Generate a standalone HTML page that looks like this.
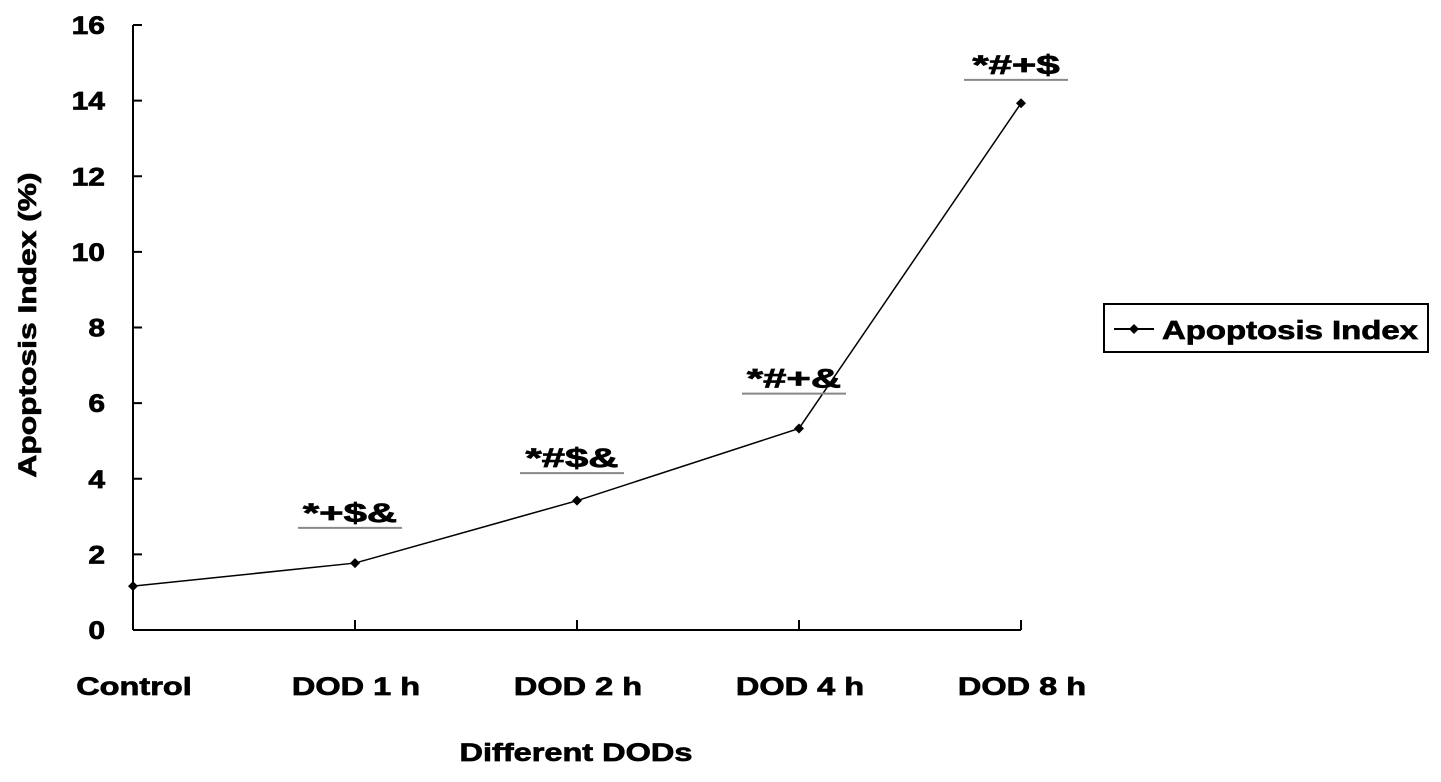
<!DOCTYPE html>
<html><head><meta charset="utf-8"><style>
body{margin:0;background:#fff;}
svg text{font-family:"Liberation Sans",Arial,sans-serif;font-weight:bold;fill:#000;stroke:#000;stroke-width:0.7;}
</style></head><body>
<svg id="chart" width="1441" height="777">
<g id="g"></g>
</svg>
<script>
const categories=["Control","DOD 1 h","DOD 2 h","DOD 4 h","DOD 8 h"];
const values=[1.16,1.77,3.42,5.33,13.93];
const annotations=["","*+$&","*#$&","*#+&","*#+$"];
const annotationLevels=[0,2.7,4.15,6.25,14.55];
const yTicks=[0,2,4,6,8,10,12,14,16];
const NS="http://www.w3.org/2000/svg";
const g=document.getElementById('g');
const x0=133,dx=222,y0=630,yTop=25;
function X(i){return x0+i*dx;}
function Y(v){return y0-(v/16)*(y0-yTop);}
function mk(t,a,p){const e=document.createElementNS(NS,t);for(const k in a)e.setAttribute(k,a[k]);(p||g).appendChild(e);return e;}
function widen(el,f){const w=el.getComputedTextLength();el.setAttribute('textLength',w*f);el.setAttribute('lengthAdjust','spacingAndGlyphs');}
let e;
e=mk('line',{x1:x0,y1:yTop,x2:x0,y2:y0,stroke:'#000','stroke-width':2});


e=mk('line',{x1:x0,y1:y0,x2:X(4),y2:y0,stroke:'#000','stroke-width':2});


yTicks.forEach(v=>{
 mk('line',{x1:x0,y1:Y(v),x2:x0+9,y2:Y(v),stroke:'#000','stroke-width':2});
 e=mk('text',{x:105,y:Y(v)+9,'text-anchor':'end','font-size':25});
 e.textContent=v;
 
 
 widen(e,1.2);
});
categories.forEach((c,i)=>{
 if(i>0)mk('line',{x1:X(i),y1:y0-10,x2:X(i),y2:y0,stroke:'#000','stroke-width':2});
 e=mk('text',{x:X(i)+1,y:695,'text-anchor':'middle','font-size':25});
 e.textContent=c;
 
 
 widen(e,1.3);
});
e=mk('polyline',{points:values.map((v,i)=>X(i)+','+Y(v)).join(' '),fill:'none',stroke:'#000','stroke-width':1.5});


values.forEach((v,i)=>{
 e=mk('polygon',{points:`${X(i)},${Y(v)-5} ${X(i)+5},${Y(v)} ${X(i)},${Y(v)+5} ${X(i)-5},${Y(v)}`,fill:'#000'});
 
 
 if(annotations[i]){
  const ay=Y(annotationLevels[i]);
  e=mk('text',{x:X(i)-5,y:ay-6,'text-anchor':'middle','font-size':27});
  e.textContent=annotations[i];
  
  
  widen(e,1.55);
  mk('line',{x1:X(i)-57,y1:ay,x2:X(i)+47,y2:ay,stroke:'#888','stroke-width':2});
 }
});
e=mk('text',{x:576,y:761,'text-anchor':'middle','font-size':25});
e.textContent='Different DODs';


widen(e,1.3);
e=mk('text',{x:0,y:0,'text-anchor':'middle','font-size':25,transform:'translate(36,325) rotate(-90)'});
e.textContent='Apoptosis Index (%)';


widen(e,1.27);
const lg=mk('g',{});


mk('rect',{x:1104,y:304,width:324,height:48,fill:'#fff',stroke:'#000','stroke-width':2},lg);
mk('line',{x1:1114,y1:329,x2:1154,y2:329,stroke:'#000','stroke-width':2},lg);
mk('polygon',{points:'1134,324 1139,329 1134,334 1129,329',fill:'#000'},lg);
e=mk('text',{x:1162,y:339,'font-size':26},lg);
e.textContent='Apoptosis Index';


e.setAttribute('textLength',256);
e.setAttribute('lengthAdjust','spacingAndGlyphs');
</script>
</body></html>
